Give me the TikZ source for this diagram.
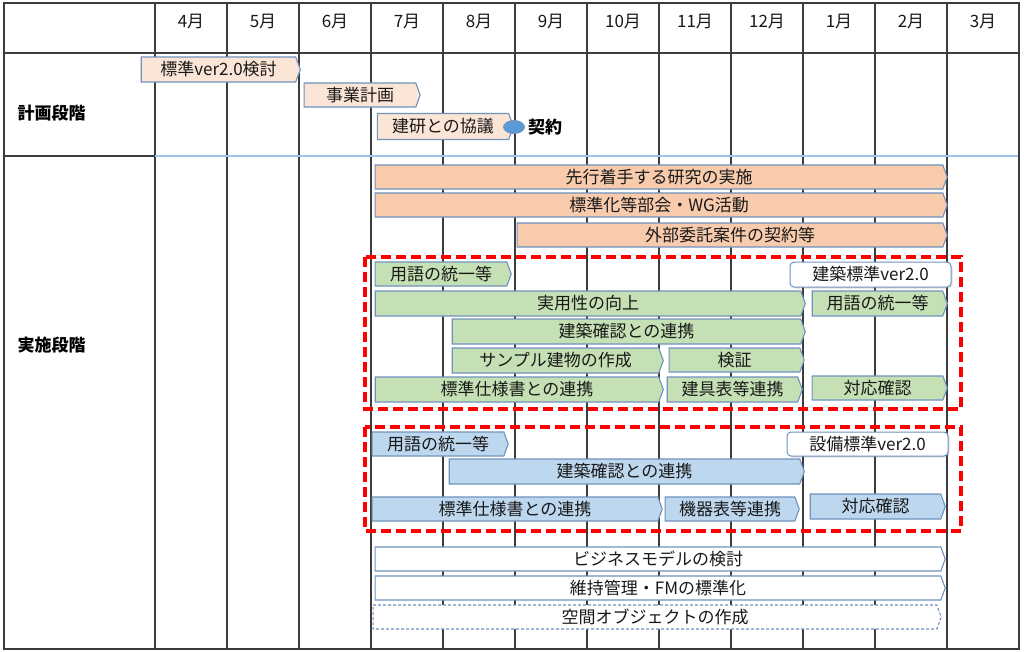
\documentclass[tikz,border=0pt]{standalone}
\usepackage{fontspec}
\setmainfont{Noto Sans CJK JP}
\usetikzlibrary{shapes.symbols,shapes.geometric,shadows}

\definecolor{gridline}{RGB}{60,60,60}
\definecolor{divline}{RGB}{157,195,230}
\definecolor{barline}{RGB}{112,146,190}
\definecolor{peachlight}{RGB}{251,229,214}
\definecolor{peach}{RGB}{248,203,173}
\definecolor{greenbar}{RGB}{197,224,180}
\definecolor{bluebar}{RGB}{189,215,238}
\definecolor{milestone}{RGB}{91,155,213}
\definecolor{txt}{RGB}{25,25,25}

\tikzset{
  task/.style={signal, signal to=east, signal pointer angle=140, draw=barline,
    line width=1.1pt, inner sep=0pt, text=txt, font=\fontsize{17}{19}\selectfont},
  label/.style={rounded corners=4pt, draw=barline, fill=white, line width=1pt,
    inner sep=0pt, text=txt, font=\fontsize{17}{19}\selectfont,
    drop shadow={opacity=0.25,shadow xshift=1.5pt,shadow yshift=-1.5pt}},
  group/.style={draw=red, line width=3.2pt, dash pattern=on 10pt off 5pt},
  phase/.style={anchor=west, font=\bfseries\fontsize{17}{19}\selectfont}
}

\begin{document}
\begin{tikzpicture}[x=1pt,y=-1pt]
\useasboundingbox[fill=white] (0,0) rectangle (1024,651);

% grid
\foreach \x in {155,227,...,947}
  \draw[gridline,line width=1.6pt] (\x,3) -- (\x,649);
\draw[gridline,line width=1.6pt] (4,53) -- (1019,53);
\draw[gridline,line width=1.6pt] (4,156) -- (155,156);
\draw[divline,line width=1.4pt] (155,156) -- (1019,156);
\draw[gridline,line width=1.8pt] (4,3) rectangle (1019,649);

% months
\foreach \m [count=\i from 0] in {4月,5月,6月,7月,8月,9月,10月,11月,12月,1月,2月,3月}
  \node[font=\fontsize{17}{19}\selectfont,text=txt] (m\i) at (191+72*\i,21) {\m};

\node[phase] (plan) at (14,113) {計画段階};
\node[phase] (impl) at (14,345) {実施段階};

% planning
\node[task,fill=peachlight,minimum width=159pt,minimum height=25pt] (kento) at (218.5,69.5) {標準ver2.0検討};
\node[task,fill=peachlight,minimum width=116pt,minimum height=24pt] (jigyo) at (360,95) {事業計画};
\node[task,fill=peachlight,minimum width=136pt,minimum height=26pt] (kyogi) at (443,126.5) {建研との協議};
\node[ellipse,fill=milestone,draw=barline,line width=0.8pt,minimum width=21pt,minimum height=13pt,inner sep=0pt] (keiyaku) at (514,127) {};
\node[anchor=west,font=\bfseries\fontsize{17}{19}\selectfont,inner sep=0pt] (keiyakutxt) at (528,127) {契約};

% implementation
\node[task,fill=peach,minimum width=572pt,minimum height=24pt] (senko) at (659,177) {先行着手する研究の実施};
\node[task,fill=peach,minimum width=572pt,minimum height=24pt] (bukai) at (659,205) {標準化等部会・WG活動};
\node[task,fill=peach,minimum width=430pt,minimum height=24pt] (gaibu) at (730,235) {外部委託案件の契約等};

% architecture
\draw[group] (365,257) rectangle (961,409);
\node[task,fill=greenbar,minimum width=136pt,minimum height=24pt] (a1) at (441,274) {用語の統一等};
\node[label,minimum width=161pt,minimum height=25pt] (alabel) at (870.5,274.5) {建築標準ver2.0};
\node[task,fill=greenbar,minimum width=430pt,minimum height=25pt] (a2) at (588,303.5) {実用性の向上};
\node[task,fill=greenbar,minimum width=135pt,minimum height=25pt] (a3) at (877.5,303.5) {用語の統一等};
\node[task,fill=greenbar,minimum width=353pt,minimum height=25pt] (a4) at (626.5,331.5) {建築確認との連携};
\node[task,fill=greenbar,minimum width=211pt,minimum height=25pt] (a5) at (555.5,360.5) {サンプル建物の作成};
\node[task,fill=greenbar,minimum width=135pt,minimum height=24pt] (a6) at (734.5,360) {検証};
\node[task,fill=greenbar,minimum width=288pt,minimum height=25pt] (a7) at (517,389.5) {標準仕様書との連携};
\node[task,fill=greenbar,minimum width=135pt,minimum height=25pt] (a8) at (732.5,389.5) {建具表等連携};
\node[task,fill=greenbar,minimum width=135pt,minimum height=24pt] (a9) at (877.5,388) {対応確認};

% equipment
\draw[group] (365,427) rectangle (961,531);
\node[task,fill=bluebar,minimum width=136pt,minimum height=24pt] (e1) at (438,444) {用語の統一等};
\node[label,minimum width=161pt,minimum height=24pt] (elabel) at (867.5,444) {設備標準ver2.0};
\node[task,fill=bluebar,minimum width=355pt,minimum height=25pt] (e2) at (624.5,471.5) {建築確認との連携};
\node[task,fill=bluebar,minimum width=290pt,minimum height=24pt] (e3) at (515,509) {標準仕様書との連携};
\node[task,fill=bluebar,minimum width=134pt,minimum height=24pt] (e4) at (730,509) {機器表等連携};
\node[task,fill=bluebar,minimum width=135pt,minimum height=25pt] (e5) at (875.5,506.5) {対応確認};

% others
\node[task,fill=white,minimum width=570pt,minimum height=24pt] (biz) at (658,559) {ビジネスモデルの検討};
\node[task,fill=white,minimum width=570pt,minimum height=24pt] (fm) at (658,588) {維持管理・FMの標準化};
\node[task,fill=white,line width=1.1pt,dash pattern=on 3pt off 2pt,minimum width=568pt,minimum height=24pt] (obj) at (655,617) {空間オブジェクトの作成};

\end{tikzpicture}
\end{document}
